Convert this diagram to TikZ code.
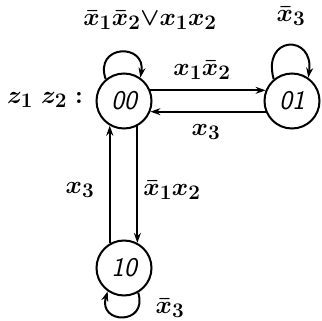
\documentclass[tikz,border=0pt]{standalone}
\usetikzlibrary{arrows.meta}
\begin{document}
\begin{tikzpicture}[x=1pt,y=-1pt,
  state/.style={circle,draw,line width=2pt,minimum size=55pt,inner sep=0pt,font=\fontsize{27}{30}\selectfont\sffamily\slshape},
  edge/.style={line width=2pt,-{Stealth[length=10pt,width=7pt]}},
  lab/.style={font=\fontsize{29}{32}\selectfont\boldmath,inner sep=1pt}]
\useasboundingbox (0,0) rectangle (322,321);
\node[state] (n00) at (124,101) {00};
\node[state] (n01) at (292,101) {01};
\node[state] (n10) at (124,268) {10};
\draw[edge] (n00.22) -- (n01.158);
\draw[edge] (n01.-158) -- (n00.-22);
\draw[edge] (n00.-62) -- (n10.62);
\draw[edge] (n10.120) -- (n00.-120);
\draw[edge] (n00.130) .. controls +(-12,-35) and +(6,-35) .. (n00.55);
\draw[edge] (n01.130) .. controls +(-12,-44) and +(6,-44) .. (n01.55);
\draw[edge] (n10.-60) .. controls +(10,33) and +(-10,33) .. (n10.-125);
\node[lab] (l1) at (150,20) {$\bar{x}_1\bar{x}_2{\vee}x_1x_2$};
\node[lab] (l2) at (202,70) {$x_1\bar{x}_2$};
\node[lab] (l3) at (206,132) {$x_3$};
\node[lab] (l4) at (80,190) {$x_3$};
\node[lab] (l5) at (172,190) {$\bar{x}_1x_2$};
\node[lab] (l6) at (291,16) {$\bar{x}_3$};
\node[lab] (l7) at (170,308) {$\bar{x}_3$};
\node[lab] (lz) at (45,100) {$z_1\;z_2\;{:}$};
\end{tikzpicture}
\end{document}
